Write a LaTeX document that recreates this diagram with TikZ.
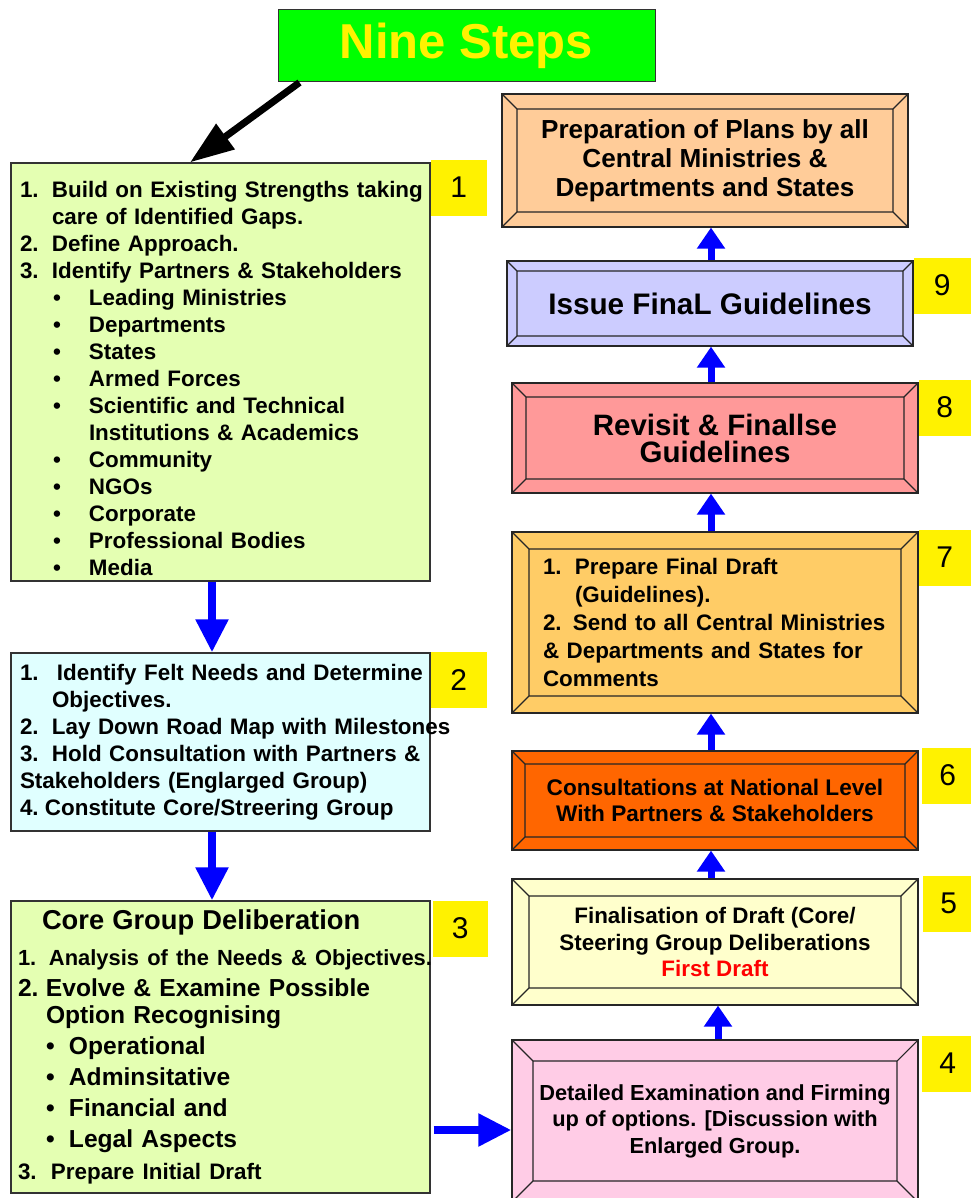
\documentclass[tikz,border=0pt]{standalone}
\usepackage{fontspec}
\setmainfont{Liberation Sans}
\usetikzlibrary{arrows.meta,positioning}
\definecolor{greenbox}{RGB}{228,255,178}
\definecolor{cyanbox}{RGB}{224,255,255}
\definecolor{peach}{RGB}{255,204,153}
\definecolor{lilac}{RGB}{204,204,255}
\definecolor{salmon}{RGB}{255,153,153}
\definecolor{goldbox}{RGB}{255,204,102}
\definecolor{orng}{RGB}{255,102,0}
\definecolor{cream}{RGB}{255,255,204}
\definecolor{pinkbox}{RGB}{255,204,230}
\definecolor{neon}{RGB}{0,255,0}
\newcommand{\itemdot}{\hspace*{33pt}\makebox[36pt][l]{\textbullet}}
\newcommand{\subdot}{\hspace*{26pt}\makebox[23pt][l]{\textbullet}}

\begin{document}
\begin{tikzpicture}[x=1pt, y=-1pt,
        stage/.style={draw=black!80, line width=1.2pt, minimum width=419pt, inner xsep=9pt, inner ysep=0pt, text width=401pt, align=left, font=\bfseries\fontsize{22.4}{27}\selectfont},
        bevel/.style={draw=black!85, line width=1.2pt, minimum width=406pt, inner sep=0pt, align=center,
            path picture={
                \draw[line width=1.1pt, black!85]
                    ([shift={(#1pt,-#1pt)}]path picture bounding box.north west) coordinate (inw)
                    rectangle ([shift={(-#1pt,#1pt)}]path picture bounding box.south east) coordinate (ise)
                    (path picture bounding box.north west) -- (inw)
                    (path picture bounding box.north east) -- (inw -| ise)
                    (path picture bounding box.south west) -- (inw |- ise)
                    (path picture bounding box.south east) -- (ise);
            }},
        num/.style={fill=yellow, minimum width=56pt, minimum height=56pt, inner sep=0pt, anchor=north west, font=\fontsize{30}{30}\selectfont},
        flow/.style={blue, line width=8pt, -{Triangle[width=31pt,length=33pt]}},
        rise/.style={blue, line width=7pt, -{Triangle[width=27pt,length=21pt]}}
    ]
    \useasboundingbox (0,0) rectangle (970,1198);

    \node[fill=neon, draw=black!80, line width=1pt, minimum width=377pt, minimum height=72pt, text=yellow, font=\bfseries\fontsize{49}{49}\selectfont] (title) at (466.5,46) {Nine Steps};

    % left column
    \node[stage, fill=greenbox, minimum height=418pt] (s1) at (220.5,372) {\rule{0pt}{30pt}\mbox{\makebox[32pt][l]{1.}Build on Existing Strengths taking}\\
        \hspace*{32pt}care of Identified Gaps.\\
        \makebox[32pt][l]{2.}Define Approach.\\
        \mbox{\makebox[32pt][l]{3.}Identify Partners \& Stakeholders}\\
        \itemdot Leading Ministries\\
        \itemdot Departments\\
        \itemdot States\\
        \itemdot Armed Forces\\
        \itemdot Scientific and Technical\\
        \hspace*{69pt}Institutions \& Academics\\
        \itemdot Community\\
        \itemdot NGOs\\
        \itemdot Corporate\\
        \itemdot Professional Bodies\\
        \itemdot Media};
    \node[num] (n1) at ([yshift=3pt]s1.north east) {1};

    \node[stage, fill=cyanbox, minimum height=178pt] (s2) at (220.5,742) {\mbox{\makebox[37pt][l]{1.}Identify Felt Needs and Determine}\\
        \hspace*{32pt}Objectives.\\
        \mbox{\makebox[32pt][l]{2.}Lay Down Road Map with Milestones}\\
        \mbox{\makebox[32pt][l]{3.}Hold Consultation with Partners \&}\\
        Stakeholders (Englarged Group)\\
        \makebox[25pt][l]{4.}Constitute Core/Streering Group};
    \node[num] (n2) at ([yshift=1pt]s2.north east) {2};

    \node[stage, fill=greenbox, minimum height=292pt, font=\bfseries\fontsize{24.6}{31}\selectfont] (s3) at (220.5,1047) {\hspace*{22pt}{\fontsize{27.3}{31}\selectfont Core Group Deliberation}\\[5pt]
        \mbox{\fontsize{21.9}{31}\selectfont\hspace*{-2pt}\makebox[31pt][l]{1.}Analysis of the Needs \& Objectives.}\\
        \mbox{\hspace*{-2pt}\makebox[28pt][l]{2.}Evolve \& Examine Possible}\\[-4pt]
        \hspace*{26pt}Option Recognising\\
        \subdot Operational\\
        \subdot Adminsitative\\
        \subdot Financial and\\
        \subdot Legal Aspects\\[1pt]
        {\fontsize{22.4}{31}\selectfont\hspace*{-2pt}\makebox[33pt][l]{3.}Prepare Initial Draft}};
    \node[num, minimum width=55pt] (n3) at ([xshift=2pt]s3.north east) {3};

    % right column
    \node[bevel=21, fill=pinkbox, minimum height=162pt, font=\bfseries\fontsize{21.8}{26.5}\selectfont] (s4) at (715,1121) {Detailed Examination and Firming\\up of options. [Discussion with\\Enlarged Group.};
    \node[num, minimum width=52pt] (n4) at ([shift={(3pt,4pt)}]s4.north east) {4};

    \node[bevel=17, fill=cream, minimum height=126pt, font=\bfseries\fontsize{22.4}{26.5}\selectfont] (s5) at (715,942) {Finalisation of Draft (Core/\\Steering Group Deliberations\\{\color{red}First Draft}};
    \node[num, minimum width=52pt] (n5) at ([shift={(4pt,3pt)}]s5.north east) {5};

    \node[bevel=13, fill=orng, minimum height=99pt, font=\bfseries\fontsize{22.6}{26}\selectfont] (s6) at (715,800.5) {Consultations at National Level\\With Partners \& Stakeholders};
    \node[num, minimum width=52pt] (n6) at ([shift={(3pt,3pt)}]s6.north east) {6};

    \node[bevel=17, fill=goldbox, minimum height=181pt, text width=344pt, align=left, font=\bfseries\fontsize{22.4}{28}\selectfont] (s7) at (715,622.5) {\makebox[32pt][l]{1.}Prepare Final Draft\\
        \hspace*{32pt}(Guidelines).\\
        \mbox{2. Send to all Central Ministries}\\
        \& Departments and States for\\
        Comments};
    \node[num, minimum width=52pt] (n7) at ([yshift=2pt]s7.north east) {7};

    \node[bevel=14, fill=salmon, minimum height=110pt, font=\bfseries\fontsize{29.5}{27}\selectfont] (s8) at (715,438) {Revisit \& Finallse\\Guidelines};
    \node[num, minimum width=52pt] (n8) at ([yshift=3pt]s8.north east) {8};

    \node[bevel=10, fill=lilac, minimum height=85pt, font=\bfseries\fontsize{29.7}{30}\selectfont] (s9) at (710,303.5) {Issue FinaL Guidelines};
    \node[num, minimum width=57pt] (n9) at ([yshift=3pt]s9.north east) {9};

    \node[bevel=15, fill=peach, minimum height=133pt, font=\bfseries\fontsize{26.1}{29}\selectfont] (plans) at (705,160.5) {Preparation of Plans by all\\Central Ministries \&\\Departments and States};

    % connectors
    \draw[line width=7pt, -{Triangle[width=30pt,length=44pt]}] ([xshift=22pt]title.south west) -- ([xshift=-30.5pt]s1.north);
    \draw[flow] ([xshift=-8.5pt]s1.south) -- ([xshift=-8.5pt]s2.north);
    \draw[flow] ([xshift=-8.5pt]s2.south) -- ([xshift=-8.5pt]s3.north);
    \draw[flow, shorten <=3pt] ([yshift=-83pt]s3.east) -- ([yshift=-83pt]s3.east -| s4.west);
    \draw[rise] ([xshift=3pt]s4.north) -- ([xshift=3pt]s5.south);
    \draw[rise] ([xshift=-4pt]s5.north) -- ([xshift=-4pt]s6.south);
    \draw[rise] ([xshift=-4pt]s6.north) -- ([xshift=-4pt]s7.south);
    \draw[rise] ([xshift=-4pt]s7.north) -- ([xshift=-4pt]s8.south);
    \draw[rise] ([xshift=-4pt]s8.north) -- ([xshift=1pt]s9.south);
    \draw[rise] ([xshift=1pt]s9.north) -- ([xshift=6pt]plans.south);
\end{tikzpicture}
\end{document}
